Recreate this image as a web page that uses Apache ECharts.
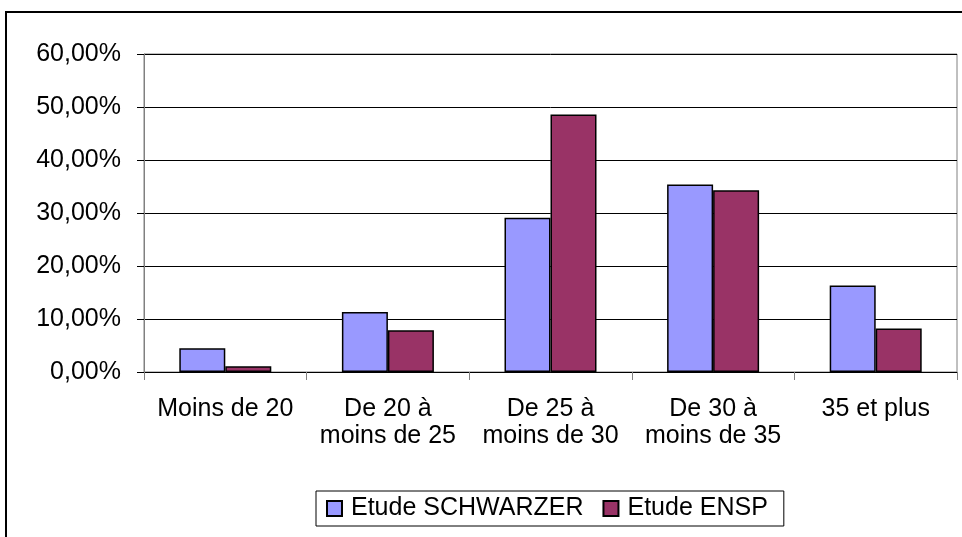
<!DOCTYPE html>
<html>
<head>
<meta charset="utf-8">
<script src="https://cdn.jsdelivr.net/npm/echarts@6/dist/echarts.min.js"></script>
<style>
html,body{margin:0;padding:0;background:#fff;}
#chart{width:962px;height:537px;}
</style>
</head>
<body>
<div id="chart"></div>
<script>
const categories = ['Moins de 20', 'De 20 à\nmoins de 25', 'De 25 à\nmoins de 30', 'De 30 à\nmoins de 35', '35 et plus'];
const seriesNames = ['Etude SCHWARZER', 'Etude ENSP'];
const schwarzer = [4.5, 11.3, 29.1, 35.4, 16.3];
const ensp = [1.1, 7.9, 48.6, 34.3, 8.2];
const yTicks = [0, 10, 20, 30, 40, 50, 60];

const font = 'Liberation Sans, Arial, sans-serif';
const chart = echarts.init(document.getElementById('chart'), null, {renderer: 'canvas'});
chart.setOption({
  backgroundColor: '#fff',
  animation: false,
  graphic: [{
    type: 'rect',
    shape: {x: 6, y: 12, width: 1100, height: 700},
    style: {fill: 'none', stroke: '#000', lineWidth: 2},
    z: 100
  }],
  grid: {left: 144, top: 54, right: 5, bottom: 165, show: true, borderColor: '#808080', borderWidth: 1, backgroundColor: 'transparent'},
  legend: {
    left: 316, top: 491,
    padding: [5, 16, 5, 10],
    icon: 'rect',
    itemWidth: 15, itemHeight: 15, itemGap: 19,
    borderColor: '#000', borderWidth: 1,
    textStyle: {fontFamily: font, fontSize: 25, color: '#000', padding: [0, 0, 0, 4]},
    data: seriesNames
  },
  xAxis: {
    type: 'category',
    data: categories,
    boundaryGap: true,
    axisLine: {lineStyle: {color: '#000', width: 1}},
    axisTick: {show: true, length: 8, lineStyle: {color: '#808080'}},
    axisLabel: {interval: 0, margin: 24, fontFamily: font, fontSize: 25, lineHeight: 27, color: '#000', align: 'center'}
  },
  yAxis: {
    type: 'value',
    min: 0, max: 60, interval: 10,
    axisLine: {show: true, lineStyle: {color: '#808080', width: 1}},
    axisTick: {show: true, length: 7, lineStyle: {color: '#000'}},
    splitLine: {show: true, lineStyle: {color: '#000', width: 1}},
    axisLabel: {margin: 23, fontFamily: font, fontSize: 25, color: '#000',
      formatter: v => yTicks.indexOf(v) >= 0 ? v.toFixed(2).replace('.', ',') + '%' : ''}
  },
  series: [
    {name: seriesNames[0], type: 'bar', data: schwarzer, barWidth: 46, barGap: '0%',
     itemStyle: {color: '#9999FF', borderColor: '#000', borderWidth: 1.5}},
    {name: seriesNames[1], type: 'bar', data: ensp, barWidth: 46, barGap: '0%',
     itemStyle: {color: '#993366', borderColor: '#000', borderWidth: 1.5}}
  ]
});
</script>
</body>
</html>
